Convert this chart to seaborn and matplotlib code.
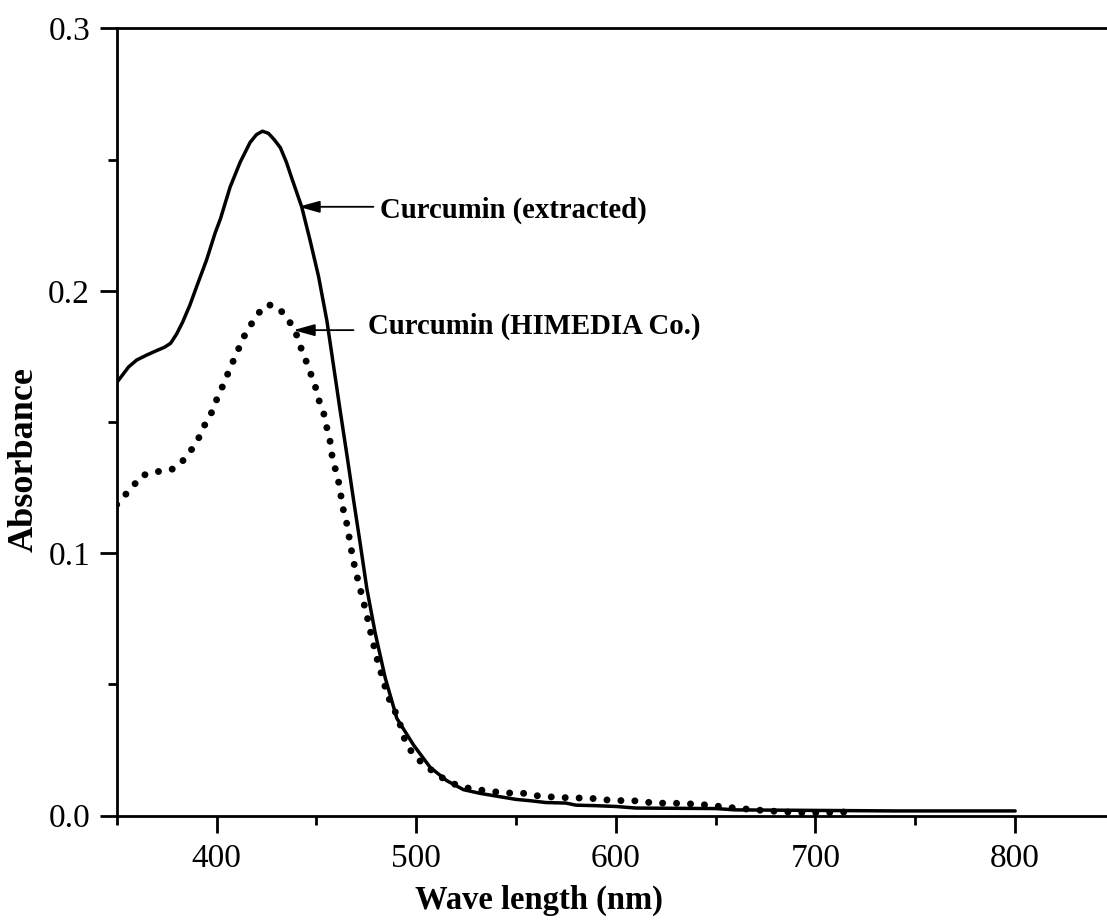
import matplotlib
matplotlib.use("Agg")
import matplotlib.pyplot as plt
import seaborn as sns
from matplotlib.ticker import FixedLocator, MultipleLocator

# UV-Vis absorbance spectra of curcumin
wl_extracted = [350, 353, 356, 360, 365, 370, 374, 377, 380, 383, 386.7, 390, 395,
                399.3, 402, 406.8, 411.8, 416.8, 420, 423, 426, 429, 432, 435, 437.7,
                442.7, 446.9, 451.1, 455.3, 458.6, 461.9, 465.3, 468.6, 472, 475.3,
                479.5, 484.5, 490.3, 498.7, 507, 515.4, 523.7, 532, 540.5, 550, 557,
                565, 575, 580, 590, 600, 610, 630, 650, 660, 700, 720, 740, 760, 780, 800]
abs_extracted = [0.165, 0.168, 0.171, 0.1736, 0.1755, 0.1772, 0.1785, 0.180, 0.1835,
                 0.188, 0.1946, 0.2015, 0.2117, 0.222, 0.2275, 0.2395, 0.2489, 0.2565,
                 0.2595, 0.2608, 0.2600, 0.2575, 0.2545, 0.2490, 0.2429, 0.2319, 0.2191,
                 0.2055, 0.1885, 0.1715, 0.1545, 0.1375, 0.1205, 0.1035, 0.0865, 0.0695,
                 0.0525, 0.0371, 0.0269, 0.0184, 0.0133, 0.0099, 0.0085, 0.0074, 0.0062,
                 0.0057, 0.0050, 0.0048, 0.0040, 0.0038, 0.0035, 0.0029, 0.0028, 0.0027,
                 0.0022, 0.0020, 0.0019, 0.0018, 0.0018, 0.0018, 0.0018]

wl_himedia = [350, 353.3, 358.3, 362.5, 366.7, 372.6, 378.4, 383, 387.6, 390.9, 393.9,
              397.6, 400.1, 403.1, 405.5, 408, 411, 413.5, 416.8, 420.2, 424.7, 428,
              431, 435.2, 439.4, 441.7, 444.5, 446.9, 449.4, 451.1, 453.6, 455.3, 456.9,
              457.8, 459.4, 461.1, 463.6, 465.3, 467.8, 469.4, 471.1, 472.8, 474.5,
              476.1, 477.8, 479.5, 481.1, 483.6, 485.3, 487.8, 491.1, 493.7, 497.9,
              502.9, 508.7, 514.5, 520.4, 527.1, 533.8, 543.8, 553.8, 560.5, 566.3,
              573.4, 587.6, 598, 612, 618.5, 633, 645, 655.8, 670, 682.6, 695, 705, 715]
abs_himedia = [0.1185, 0.1214, 0.1256, 0.1297, 0.1302, 0.1315, 0.1321, 0.1351, 0.1396,
               0.1436, 0.1486, 0.1537, 0.1586, 0.1637, 0.1681, 0.1726, 0.1778, 0.1822,
               0.1865, 0.1907, 0.1946, 0.1945, 0.1935, 0.1898, 0.1848, 0.1794, 0.1740,
               0.1690, 0.1638, 0.1587, 0.1536, 0.1477, 0.1426, 0.1375, 0.1324, 0.1273,
               0.1162, 0.1111, 0.1001, 0.0941, 0.0890, 0.0839, 0.0788, 0.0737, 0.0677,
               0.0627, 0.0576, 0.0516, 0.0465, 0.0422, 0.0371, 0.0300, 0.0240, 0.0201,
               0.0167, 0.0137, 0.0116, 0.0103, 0.0096, 0.0087, 0.0085, 0.0076, 0.0072,
               0.0069, 0.0066, 0.0058, 0.0056, 0.0048, 0.0047, 0.0041, 0.0032, 0.0022,
               0.0015, 0.0011, 0.0012, 0.0014]

x_ticks = [400, 500, 600, 700, 800]
y_ticks = [0.0, 0.1, 0.2, 0.3]
y_tick_labels = ["0.0", "0.1", "0.2", "0.3"]

label_extracted = "Curcumin (extracted)"
label_himedia = "Curcumin (HIMEDIA Co.)"

sns.set_theme(style="ticks")
plt.rcParams["font.family"] = ["Liberation Serif", "DejaVu Serif"]
plt.rcParams["text.color"] = "black"
plt.rcParams["axes.labelcolor"] = "black"

fig = plt.figure(figsize=(11.07, 9.23), dpi=100)
ax = fig.add_axes([0.1054, 0.1163, 0.8946, 0.853])

sns.lineplot(x=wl_extracted, y=abs_extracted, ax=ax, color="black",
             linewidth=2.5, sort=False, estimator=None)
sns.lineplot(x=wl_himedia, y=abs_himedia, ax=ax, color="black",
             linewidth=5.0, linestyle=(0, (0.01, 2.0)), dash_capstyle="round",
             sort=False, estimator=None)

ax.set_xlim(350, 846)
ax.set_ylim(0, 0.3)
ax.xaxis.set_major_locator(FixedLocator(x_ticks))
ax.xaxis.set_minor_locator(MultipleLocator(50))
ax.yaxis.set_major_locator(FixedLocator(y_ticks))
ax.yaxis.set_minor_locator(MultipleLocator(0.05))
ax.set_yticklabels(y_tick_labels)

ax.spines["right"].set_visible(False)
for side in ("left", "bottom", "top"):
    ax.spines[side].set_linewidth(2.0)
    ax.spines[side].set_color("black")

ax.tick_params(which="major", direction="out", length=12.2, width=2.0,
               color="black", labelsize=24, labelcolor="black")
ax.tick_params(axis="x", which="major", pad=8)
ax.tick_params(axis="y", which="major", pad=7)
ax.tick_params(which="minor", direction="out", length=6.5, width=2.0, color="black")
ax.tick_params(top=False, right=False, which="both")

ax.set_xlabel("Wave length (nm)", fontsize=23.5, fontweight="bold")
ax.xaxis.label.set_va("center")
ax.xaxis.set_label_coords(0.426, -0.107)
ax.set_ylabel("Absorbance", fontsize=26, fontweight="bold")
ax.yaxis.label.set_va("center")
ax.yaxis.set_label_coords(-0.0936, 0.452)

arrow_kw = dict(arrowstyle="-|>,head_length=0.65,head_width=0.18", color="black",
                lw=1.3, shrinkA=0, shrinkB=0, mutation_scale=20)
ax.annotate("", xy=(441.0, 0.232), xytext=(478.6, 0.232), arrowprops=arrow_kw)
ax.text(482.0, 0.2307, label_extracted, fontsize=20.7, fontweight="bold",
        va="center", ha="left")
ax.annotate("", xy=(438.5, 0.185), xytext=(468.6, 0.185), arrowprops=arrow_kw)
ax.text(476.1, 0.1863, label_himedia, fontsize=20.7, fontweight="bold",
        va="center", ha="left")

fig.savefig("out.png", dpi=100)
